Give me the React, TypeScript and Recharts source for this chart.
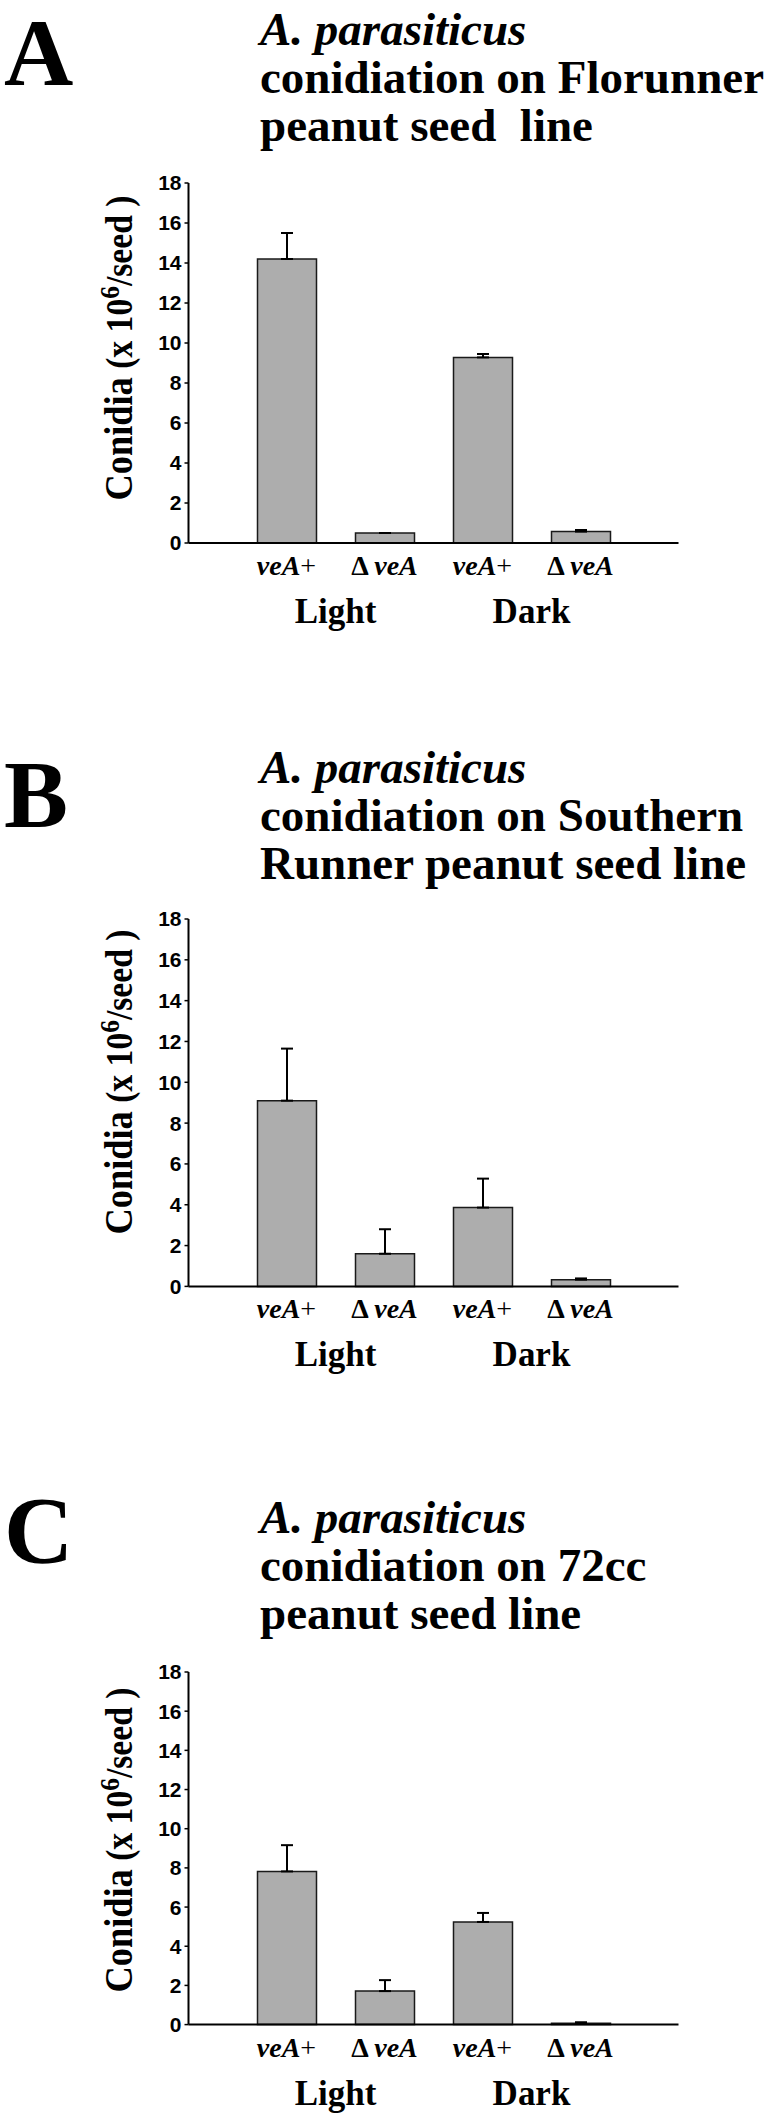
import React from 'react';
import { BarChart, Bar, XAxis, YAxis, ErrorBar } from 'recharts';

// categories
const barKeys = ['lightWt', 'lightDel', 'darkWt', 'darkDel'];
const genotypes = ['veA+', 'ΔveA', 'veA+', 'ΔveA'];
const conditions = ['Light', 'Dark'];
const yTicks = [0, 2, 4, 6, 8, 10, 12, 14, 16, 18];

// conidia (x 10^6 / seed), mean and upper error
const florunnerMean = [14.2, 0.5, 9.28, 0.57];
const florunnerErr = [1.3, 0, 0.17, 0.08];
const southernMean = [9.1, 1.6, 3.86, 0.33];
const southernErr = [2.55, 1.2, 1.42, 0.06];
const cc72Mean = [7.82, 1.71, 5.24, 0.07];
const cc72Err = [1.34, 0.56, 0.46, 0.05];

const SERIF = '"Liberation Serif", "Times New Roman", serif';
const SANS = '"Liberation Sans", Arial, sans-serif';

const buildRows = (means: number[], errs: number[]) =>
  barKeys.map((k, i) => ({ key: k, mean: means[i], err: [0, errs[i]] }));

const panels = [
  {
    letter: 'A',
    letterY: 85,
    titleY: 45,
    lines: ['conidiation on Florunner', 'peanut seed  line'],
    top: 183.3,
    zero: 543.3,
    labelY: 348,
    rows: buildRows(florunnerMean, florunnerErr),
  },
  {
    letter: 'B',
    letterY: 827,
    titleY: 783,
    lines: ['conidiation on Southern', 'Runner peanut seed line'],
    top: 919.3,
    zero: 1286.7,
    labelY: 1082,
    rows: buildRows(southernMean, southernErr),
  },
  {
    letter: 'C',
    letterY: 1563,
    titleY: 1533,
    lines: ['conidiation on 72cc', 'peanut seed line'],
    top: 1671.7,
    zero: 2024.3,
    labelY: 1840,
    rows: buildRows(cc72Mean, cc72Err),
  },
];

const TOP_PAD = 20;

const GenotypeTick = (props: any) => {
  const { x, index, axisY } = props;
  const name = genotypes[index];
  const isDel = name.startsWith('Δ');
  return (
    <g>
      <text x={x} y={axisY + 32} textAnchor="middle" fontFamily={SERIF} fontWeight={700} fontSize={28} fill="#000">
        {isDel ? (
          <>
            <tspan fontStyle="normal">{'Δ '}</tspan>
            <tspan fontStyle="italic">veA</tspan>
          </>
        ) : (
          <>
            <tspan fontStyle="italic">veA</tspan>
            <tspan fontStyle="normal" fontWeight={400}>+</tspan>
          </>
        )}
      </text>
      {index % 2 === 0 && (
        <text x={x + 49} y={axisY + 80} textAnchor="middle" fontFamily={SERIF} fontWeight={700} fontSize={35} fill="#000">
          {conditions[index / 2]}
        </text>
      )}
    </g>
  );
};

const Panel = ({ p }: { p: any }) => {
  const chartTop = p.top - TOP_PAD;
  const height = p.zero - p.top + TOP_PAD + 100;
  const axisY = p.zero - chartTop;
  return (
    <div style={{ position: 'absolute', left: 0, top: chartTop, width: 775, height }}>
      <BarChart width={775} height={height} data={p.rows} margin={{ top: TOP_PAD, right: 96.5, bottom: 0, left: 0 }}>
        <XAxis
          dataKey="key"
          type="category"
          height={100}
          interval={0}
          padding={{ left: 49, right: 49 }}
          axisLine={{ stroke: '#000', strokeWidth: 2 }}
          tickLine={false}
          tick={(tp: any) => <GenotypeTick {...tp} axisY={axisY} />}
        />
        <YAxis
          width={188.5}
          domain={[0, 18]}
          ticks={yTicks}
          interval={0}
          axisLine={{ stroke: '#000', strokeWidth: 2 }}
          tickLine={{ stroke: '#000', strokeWidth: 1.5 }}
          tickSize={4}
          tickMargin={3}
          tick={{ fill: '#000', fontSize: 21, fontWeight: 700, fontFamily: SANS }}
        />
        <Bar dataKey="mean" fill="#adadad" stroke="#1a1a1a" strokeWidth={1.5} barSize={59} isAnimationActive={false}>
          <ErrorBar dataKey="err" width={6} stroke="#000" strokeWidth={2} direction="y" isAnimationActive={false} />
        </Bar>
      </BarChart>
    </div>
  );
};

export default function App() {
  return (
    <div style={{ position: 'absolute', left: 0, top: 0, width: 775, height: 2117, background: '#fff', overflow: 'hidden' }}>
      {panels.map((p) => (
        <Panel key={p.letter} p={p} />
      ))}
      <svg width={775} height={2117} style={{ position: 'absolute', left: 0, top: 0, pointerEvents: 'none' }}>
        {panels.map((p) => (
          <g key={p.letter} fontFamily={SERIF} fill="#000">
            <text x={4} y={p.letterY} fontSize={96} fontWeight={700}>
              {p.letter}
            </text>
            <text x={260} y={p.titleY} fontSize={47} fontWeight={700} fontStyle="italic">
              A. parasiticus
            </text>
            {p.lines.map((line: string, i: number) => (
              <text key={i} x={260} y={p.titleY + 48 * (i + 1)} fontSize={47} fontWeight={700} style={{ whiteSpace: 'pre' }}>
                {line}
              </text>
            ))}
            <text
              transform={`translate(132, ${p.labelY}) rotate(-90)`}
              textAnchor="middle"
              fontWeight={700}
              textLength={305}
              lengthAdjust="spacingAndGlyphs"
            >
              <tspan fontSize={40}>Conidia</tspan>
              <tspan fontSize={37} style={{ whiteSpace: 'pre' }}>{' (x 10'}</tspan>
              <tspan fontSize={28} dy={-13}>6</tspan>
              <tspan fontSize={37} dy={13}>{'/seed )'}</tspan>
            </text>
          </g>
        ))}
      </svg>
    </div>
  );
}
